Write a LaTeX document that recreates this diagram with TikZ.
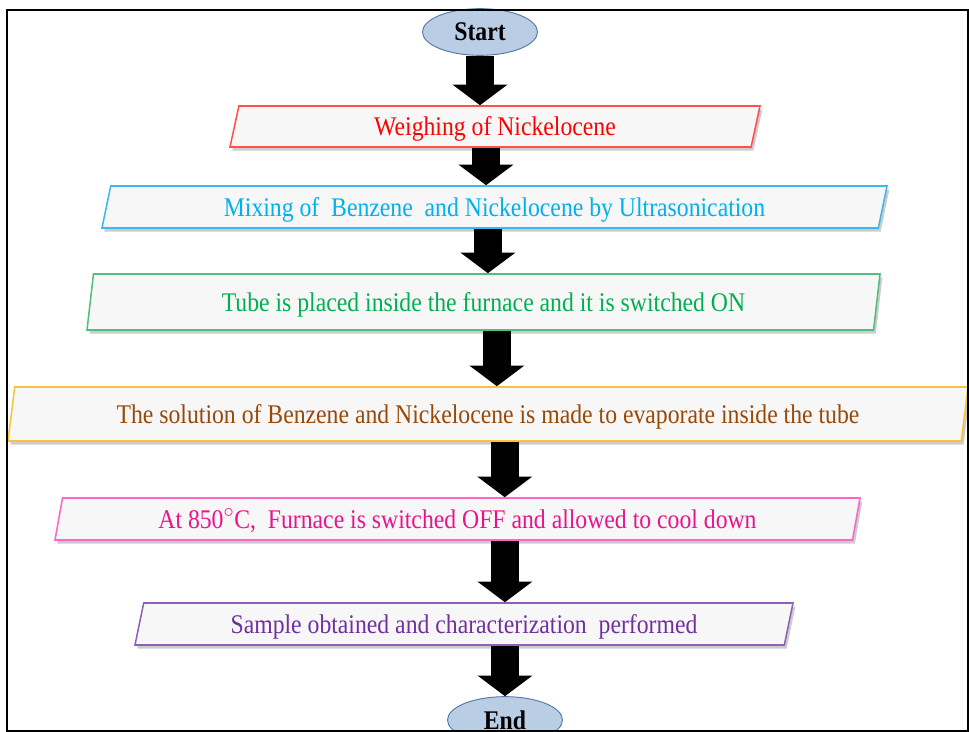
\documentclass[tikz,border=0pt]{standalone}
\usepackage{fontspec}
\setmainfont{Liberation Serif}[FakeStretch=0.88]
\usetikzlibrary{arrows.meta,shapes.geometric,shadows}
\definecolor{weighred}{RGB}{255,0,0}
\definecolor{weighedge}{RGB}{255,80,80}
\definecolor{mixblue}{RGB}{0,176,240}
\definecolor{mixedge}{RGB}{60,185,235}
\definecolor{tubegreen}{RGB}{0,176,80}
\definecolor{tubeedge}{RGB}{80,190,125}
\definecolor{solbrown}{RGB}{152,72,7}
\definecolor{soledge}{RGB}{245,195,60}
\definecolor{hotpink}{RGB}{232,20,140}
\definecolor{hotedge}{RGB}{255,100,200}
\definecolor{samppurple}{RGB}{112,48,160}
\definecolor{sampedge}{RGB}{145,95,185}
\definecolor{endfill}{RGB}{185,205,229}
\definecolor{endedge}{RGB}{85,120,165}

\begin{document}
\begin{tikzpicture}[
  x=0.03cm, y=-0.03cm,
  stepbox/.style={shape=trapezium, line width=1.3pt, fill=gray!6, trapezium stretches body, align=center, inner sep=2pt, text height=18pt, text depth=2pt, font=\fontsize{23}{26}\selectfont, drop shadow={shadow xshift=2pt, shadow yshift=-3pt, opacity=0.4}},
  ends/.style={ellipse, draw=endedge, line width=0.8pt, fill=endfill, minimum width=3.45cm, minimum height=1.4cm, inner sep=0pt, font=\fontsize{23}{26}\selectfont\bfseries},
  fatarr/.style={line width=0.84cm, -{Triangle[length=0.62cm, width=1.62cm]}}
]
  \useasboundingbox (0,0) rectangle (969,732);
  \node[ends] (start) at (480,32) {Start};
  \node[stepbox, draw=weighedge, text=weighred, minimum width=15.9cm, minimum height=1.23cm, trapezium left angle=72.4, trapezium right angle=107.6] (weigh) at (495,126.5) {Weighing of Nickelocene};
  \node[stepbox, draw=mixedge, text=mixblue, minimum width=23.55cm, minimum height=1.26cm, trapezium left angle=72.8, trapezium right angle=107.2] (mix) at (494.5,207) {Mixing of\ \ Benzene\ \ and Nickelocene\ by Ultrasonication};
  \node[stepbox, draw=tubeedge, text=tubegreen, minimum width=23.79cm, minimum height=1.68cm, trapezium left angle=77, trapezium right angle=103] (tube) at (483.5,302) {Tube is placed\ inside the furnace and it is switched ON};
  \node[stepbox, draw=soledge, text=solbrown, minimum width=28.8cm, minimum height=1.62cm, trapezium left angle=76.5, trapezium right angle=103.5] (sol) at (488,414) {The solution of Benzene\ and Nickelocene\ is made to evaporate\ inside the tube};
  \node[stepbox, draw=hotedge, text=hotpink, minimum width=24.15cm, minimum height=1.26cm, trapezium left angle=75, trapezium right angle=105] (hot) at (457.5,519) {At 850$^{\circ}$C,\ \ Furnace is switched OFF and allowed to cool down};
  \node[stepbox, draw=sampedge, text=samppurple, minimum width=19.74cm, minimum height=1.26cm, trapezium left angle=72.8, trapezium right angle=107.2] (samp) at (464,624) {Sample obtained and characterization\ \ performed};
  \node[ends] (finish) at (505,720) {End};
  \draw[fatarr] (start.south) -- (start.south |- weigh.north);
  \draw[fatarr] ([xshift=-0.27cm]weigh.south) -- ([xshift=-0.27cm]weigh.south |- mix.north);
  \draw[fatarr] ([xshift=-0.2cm]mix.south) -- ([xshift=-0.2cm]mix.south |- tube.north);
  \draw[fatarr] ([xshift=0.4cm]tube.south) -- ([xshift=0.4cm]tube.south |- sol.north);
  \draw[fatarr] ([xshift=0.5cm]sol.south) -- ([xshift=0.5cm]sol.south |- hot.north);
  \draw[fatarr] ([xshift=1.42cm]hot.south) -- ([xshift=1.42cm]hot.south |- samp.north);
  \draw[fatarr] (samp.south -| finish.north) -- (finish.north);
  \draw[line width=2.5pt] (7,10) rectangle (968,731);
\end{tikzpicture}
\end{document}
